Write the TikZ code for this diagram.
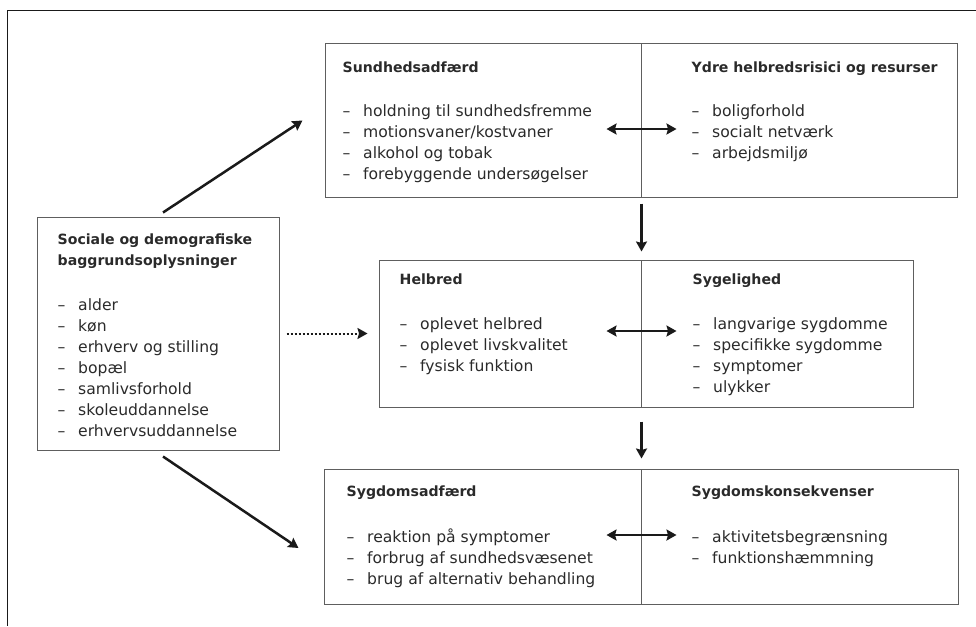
\documentclass[tikz,border=0pt]{standalone}
\usepackage{fontspec}
\setmainfont{DejaVu Sans}
\usepackage{xcolor}
\usetikzlibrary{arrows.meta}
\definecolor{textgray}{HTML}{2A2A2A}
\definecolor{boxgray}{HTML}{5E5E5E}
\definecolor{arrowblack}{HTML}{1A1A1A}
\newcommand{\punkt}[1]{\makebox[20.5pt][l]{–}#1}
\newcommand{\overskrift}[1]{{\fontsize{14.1}{21}\selectfont\bfseries #1}}

\begin{document}
\begin{tikzpicture}[x = 1pt, y = 1pt,
        boks/.style = {draw = boxgray, line width = 1pt, rectangle, inner sep = 0pt},
        tekst/.style = {anchor = north west, align = left, inner sep = 0pt, text = textgray, font = \fontsize{15.6}{21}\selectfont},
        pil/.style = {-{Stealth[length = 10pt, width = 11pt, inset = 1.5pt]}, line width = 2.5pt, color = arrowblack},
        dobbeltpil/.style = {pil, {Stealth[length = 10pt, width = 11pt, inset = 1.5pt]}-{Stealth[length = 10pt, width = 11pt, inset = 1.5pt]}}]
        \useasboundingbox (0, 0) rectangle (976, -626);

        % Frame
        \draw [line width = 1pt, color = arrowblack] (976, -11) -- (7, -11) -- (7, -626);

        % Boxes
        \node [boks, minimum width = 242pt, minimum height = 233pt] (soc) at (158, -333.5) {};
        \node [boks, minimum width = 316pt, minimum height = 153pt] (sund) at (483, -120.5) {};
        \node [boks, minimum width = 316pt, minimum height = 153pt] (ydre) at (799, -120.5) {};
        \node [boks, minimum width = 262pt, minimum height = 147pt] (helb) at (510, -333.5) {};
        \node [boks, minimum width = 272pt, minimum height = 147pt] (syge) at (777, -333.5) {};
        \node [boks, minimum width = 317pt, minimum height = 135pt] (sygd) at (482.5, -536.5) {};
        \node [boks, minimum width = 317pt, minimum height = 135pt] (kons) at (799.5, -536.5) {};

        % Texts
        \node [tekst] (soctxt) at ([xshift = 21pt, yshift = -17.3pt] soc.north west) {\overskrift{Sociale og demografiske}\\\overskrift{baggrundsoplysninger}\\[24pt]
                \punkt{alder}\\\punkt{køn}\\\punkt{erhverv og stilling}\\\punkt{bopæl}\\\punkt{samlivsforhold}\\\punkt{skoleuddannelse}\\\punkt{erhvervsuddannelse}};
        \node [tekst] (sundtxt) at ([xshift = 18pt, yshift = -18.3pt] sund.north west) {\overskrift{Sundhedsadfærd}\\[23pt]
                \punkt{holdning til sundhedsfremme}\\\punkt{motionsvaner/kostvaner}\\\punkt{alkohol og tobak}\\\punkt{forebyggende undersøgelser}};
        \node [tekst] (ydretxt) at ([xshift = 51pt, yshift = -18.3pt] ydre.north west) {\overskrift{Ydre helbredsrisici og resurser}\\[23pt]
                \punkt{boligforhold}\\\punkt{socialt netværk}\\\punkt{arbejdsmiljø}};
        \node [tekst] (helbtxt) at ([xshift = 21pt, yshift = -14.3pt] helb.north west) {\overskrift{Helbred}\\[24pt]
                \punkt{oplevet helbred}\\\punkt{oplevet livskvalitet}\\\punkt{fysisk funktion}};
        \node [tekst] (sygetxt) at ([xshift = 52pt, yshift = -13.8pt] syge.north west) {\overskrift{Sygelighed}\\[24pt]
                \punkt{langvarige sygdomme}\\\punkt{specifikke sygdomme}\\\punkt{symptomer}\\\punkt{ulykker}};
        \node [tekst] (sygdtxt) at ([xshift = 23pt, yshift = -17.3pt] sygd.north west) {\overskrift{Sygdomsadfærd}\\[25pt]
                \punkt{reaktion på symptomer}\\\punkt{forbrug af sundhedsvæsenet}\\\punkt{brug af alternativ behandling}};
        \node [tekst] (konstxt) at ([xshift = 51pt, yshift = -17.3pt] kons.north west) {\overskrift{Sygdomskonsekvenser}\\[25pt]
                \punkt{aktivitetsbegrænsning}\\\punkt{funktionshæmmning}};

        % Arrows
        \draw [pil] ([xshift = 5pt, yshift = 4pt] soc.north) -- ([xshift = -22pt] sund.west);
        \draw [pil] ([xshift = 5pt, yshift = -6pt] soc.south) -- ([xshift = -25pt, yshift = -11.5pt] sygd.west);
        \draw [pil, line width = 2pt, dash pattern = on 2pt off 2pt, shorten < = 7pt, shorten > = 11pt] (soc.east) -- (helb.west);
        \draw [pil, shorten < = 6pt, shorten > = 8pt] (sund.south east) -- (helb.north east);
        \draw [pil, shorten < = 14pt, shorten > = 10pt] (helb.south east) -- (sygd.north east);
        \draw [dobbeltpil] ([xshift = -35pt, yshift = -8.5pt] sund.east) -- ([xshift = 36pt, yshift = -8.5pt] ydre.west);
        \draw [dobbeltpil] ([xshift = -35pt, yshift = 2.5pt] helb.east) -- ([xshift = 36pt, yshift = 2.5pt] syge.west);
        \draw [dobbeltpil] ([xshift = -35pt, yshift = 1.5pt] sygd.east) -- ([xshift = 36pt, yshift = 1.5pt] kons.west);

\end{tikzpicture}
\end{document}
